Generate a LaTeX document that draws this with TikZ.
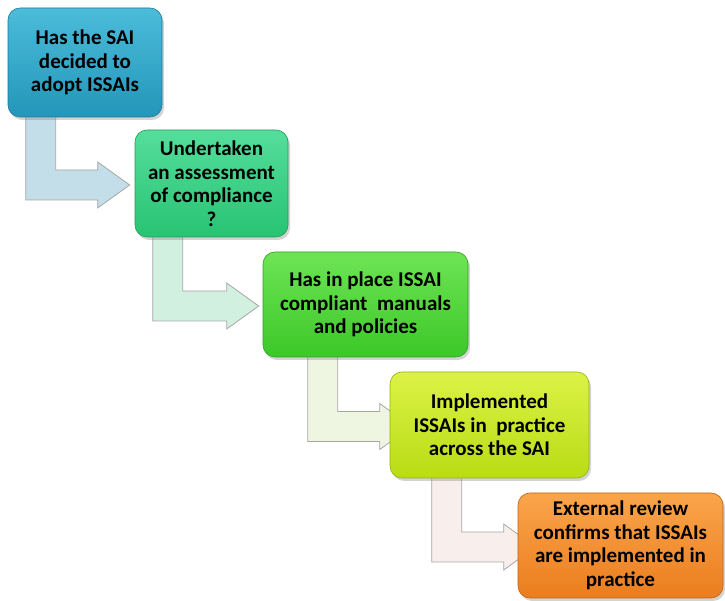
\documentclass[tikz,border=0pt]{standalone}
\usepackage{fontspec}
\setmainfont{Carlito}
\usepackage{tikz}
\usetikzlibrary{calc,shadows,backgrounds}

\definecolor{boxAt}{RGB}{75,188,218}
\definecolor{boxAb}{RGB}{35,150,185}
\definecolor{boxBt}{RGB}{85,222,155}
\definecolor{boxBb}{RGB}{40,195,115}
\definecolor{boxCt}{RGB}{110,228,85}
\definecolor{boxCb}{RGB}{60,200,40}
\definecolor{boxDt}{RGB}{220,242,70}
\definecolor{boxDb}{RGB}{185,220,20}
\definecolor{boxEt}{RGB}{250,165,75}
\definecolor{boxEb}{RGB}{235,125,30}
\definecolor{arrA}{RGB}{195,222,233}
\definecolor{arrB}{RGB}{210,240,224}
\definecolor{arrC}{RGB}{238,245,224}
\definecolor{arrD}{RGB}{248,238,236}

\begin{document}
\begin{tikzpicture}[
x=1pt,y=1pt,
stage/.style={rounded corners=12pt,draw=#1b!80!black,line width=0.6pt,
  top color=#1t,bottom color=#1b,drop shadow={shadow xshift=2pt,shadow yshift=-3pt,opacity=0.35},
  align=center,font=\fontsize{21}{23.5}\selectfont\bfseries,inner sep=0pt},
stair/.style={fill=#1,draw=black!35,line width=0.8pt,line join=miter}
]
\useasboundingbox (0,0) rectangle (725,601);

\node[stage=boxA,minimum width=154,minimum height=109] (sai) at (85,538.5)
  {Has the SAI\\decided to\\adopt ISSAIs};
\node[stage=boxB,minimum width=153,minimum height=107] (assess) at (211.5,417.5)
  {Undertaken\\an assessment\\of compliance\\?};
\node[stage=boxC,minimum width=205,minimum height=105] (manuals) at (365.5,296.5)
  {Has in place ISSAI\\compliant\ \ manuals\\and policies};
\node[stage=boxD,minimum width=199,minimum height=106] (practice) at (489.5,176)
  {Implemented\\ISSAIs in\ \ practice\\across the SAI};
\node[stage=boxE,minimum width=205,minimum height=105] (review) at (620.5,55.5)
  {External review\\confirms that ISSAIs\\are implemented in\\practice};

% bent arrows, drawn behind the boxes
\begin{scope}[on background layer]
\foreach \from/\to/\off/\head/\col in {sai/assess/18/37/arrA,assess/manuals/18/36/arrB,
  manuals/practice/45/10/arrC,practice/review/42/14/arrD}
{
  \draw[stair=\col] let \p1=(\from.south west), \p2=(\to.west) in
    (\x1+\off,\y1) -- (\x1+\off,\y2-16.5) -- (\x2-\head,\y2-16.5) -- (\x2-\head,\y2-24.5)
    -- (\x2-\head+32,\y2-1.5) -- (\x2-\head,\y2+21.5) -- (\x2-\head,\y2+13.5)
    -- (\x1+\off+30,\y2+13.5) -- (\x1+\off+30,\y1);
}
\end{scope}
\end{tikzpicture}
\end{document}
